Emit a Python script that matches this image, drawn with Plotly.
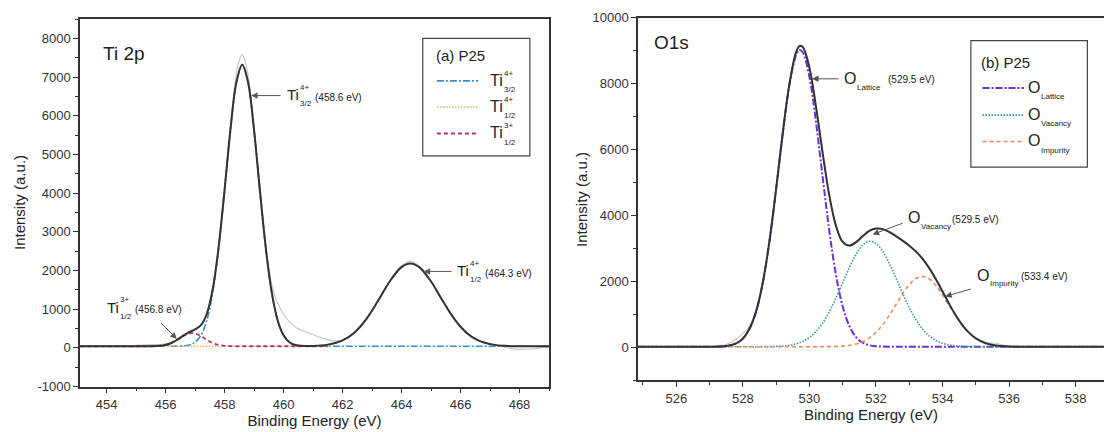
import plotly.graph_objects as go

# ---------------- Ti 2p spectrum (panel a) ----------------
ti_energy = [453.1, 454.0, 455.0, 455.5, 455.8, 456.0, 456.2, 456.4, 456.6, 456.8,
             457.0, 457.2, 457.4, 457.6, 457.8, 458.0, 458.2, 458.4, 458.6, 458.8,
             459.0, 459.2, 459.4, 459.6, 459.8, 460.0, 460.2, 460.4, 460.6, 461.0,
             461.5, 462.0, 462.4, 462.8, 463.2, 463.6, 464.0, 464.3, 464.6, 465.0,
             465.4, 465.8, 466.2, 466.6, 467.1, 467.6, 468.0, 469.0]
ti4_32 = [40, 40, 40, 40, 40, 40, 40, 42, 50, 74,
          146, 325, 714, 1434, 2568, 4055, 5628, 6854, 7320, 6854,
          5628, 4055, 2568, 1434, 714, 325, 146, 74, 50, 40,
          40, 40, 40, 40, 40, 40, 40, 40, 40, 40,
          40, 40, 40, 40, 40, 40, 40, 40]
ti4_12 = [40, 40, 40, 40, 40, 40, 40, 40, 40, 40,
          40, 40, 40, 40, 40, 40, 40, 40, 40, 40,
          40, 40, 40, 40, 40, 40, 40, 40, 42, 49,
          82, 192, 392, 735, 1208, 1715, 2086, 2180, 2086, 1715,
          1208, 735, 392, 192, 82, 49, 42, 40]
ti3_12 = [40, 40, 40, 41, 51, 74, 125, 207, 303, 370,
          370, 303, 207, 125, 74, 51, 43, 40, 40, 40,
          40, 40, 40, 40, 40, 40, 40, 40, 40, 40,
          40]
ti_fit = [40, 40, 40, 41, 51, 74, 125, 209, 313, 404,
          476, 588, 881, 1519, 2602, 4066, 5631, 6854, 7320, 6854,
          5628, 4055, 2568, 1434, 714, 325, 146, 74, 52, 49,
          82, 192, 392, 735, 1208, 1715, 2086, 2180, 2086, 1715,
          1208, 735, 392, 192, 82, 49, 42, 40]
ti_raw_energy = [453.1, 453.6, 454.1, 454.6, 455.1, 455.5, 455.9, 456.2, 456.5, 456.8,
                 457.1, 457.3, 457.5, 457.7, 457.9, 458.1, 458.3, 458.45, 458.6, 458.75,
                 458.9, 459.1, 459.3, 459.5, 459.7, 459.9, 460.1, 460.3, 460.5, 460.8,
                 461.1, 461.4, 461.7, 462.0, 462.3, 462.6, 463.0, 463.4, 463.8, 464.1,
                 464.3, 464.5, 464.8, 465.2, 465.6, 466.0, 466.4, 466.8, 467.2, 467.6,
                 468.0, 468.4, 468.8, 469.0]
ti_raw = [45, 35, 45, 40, 70, 85, 90, 150, 270, 400,
          520, 700, 1150, 2050, 3400, 4950, 6450, 7300, 7580, 7250,
          6400, 4950, 3400, 2050, 1350, 1000, 760, 600, 490, 400,
          310, 230, 180, 200, 320, 520, 950, 1480, 1950, 2180,
          2240, 2170, 1950, 1480, 980, 560, 280, 140, 60, 0,
          -40, -30, 10, 20]
ti_ticks = [-1000, 0, 1000, 2000, 3000, 4000, 5000, 6000, 7000, 8000]

# ---------------- O 1s spectrum (panel b) ----------------
o_energy = [524.85, 526.0, 527.0, 527.5, 527.8, 528.0, 528.2, 528.4, 528.6, 528.8,
            529.0, 529.2, 529.4, 529.6, 529.7, 529.8, 530.0, 530.2, 530.4, 530.6,
            530.8, 531.0, 531.2, 531.4, 531.6, 531.8, 532.0, 532.2, 532.4, 532.6,
            532.8, 533.0, 533.2, 533.4, 533.6, 533.8, 534.0, 534.2, 534.4, 534.6,
            534.8, 535.0, 535.3, 535.6, 536.0, 537.0, 538.0, 538.85]
o_lattice = [15, 15, 15, 37, 116, 262, 559, 1088, 1962, 3219,
             4796, 6486, 7958, 8860, 9012, 8946, 8194, 6810, 5134, 3513,
             2182, 1233, 644, 306, 137, 61, 31, 20, 16, 15,
             15, 15, 15, 15, 15, 15, 15, 15, 15, 15,
             15, 15, 15, 15, 15, 15, 15, 15]
o_vacancy = [15, 15, 15, 15, 15, 15, 15, 16, 17, 19,
             25, 36, 59, 102, 134, 176, 297, 480, 740, 1082,
             1497, 1956, 2414, 2813, 3094, 3213, 3148, 2912, 2543, 2096,
             1632, 1200, 835, 550, 344, 206, 120, 69, 41, 27,
             20, 17, 15, 15, 15, 15, 15, 15]
o_impurity = [15, 15, 15, 15, 15, 15, 15, 15, 15, 15,
              15, 15, 15, 15, 15, 15, 15, 15, 15, 19,
              24, 34, 56, 97, 168, 282, 450, 680, 967, 1290,
              1615, 1895, 2083, 2145, 2069, 1870, 1584, 1257, 936, 654,
              431, 268, 121, 53, 23, 15, 15, 15]
o_fit = [15, 15, 15, 37, 116, 262, 559, 1089, 1964, 3223,
         4806, 6507, 7987, 8947, 9131, 9107, 8476, 7275, 5874, 4586,
         3673, 3193, 3084, 3186, 3369, 3526, 3599, 3582, 3495, 3371,
         3232, 3080, 2903, 2680, 2398, 2061, 1689, 1311, 962, 666,
         436, 270, 121, 53, 23, 15, 15, 15]
o_raw = [10, 15, 20, 90, 250, 420, 650, 1150, 1990, 3230,
         4810, 6500, 7990, 8960, 9170, 9120, 8480, 7280, 5880, 4590,
         3670, 3190, 3070, 3180, 3370, 3530, 3600, 3580, 3490, 3370,
         3230, 3080, 2900, 2680, 2400, 2060, 1690, 1310, 960, 670,
         440, 280, 140, 120, 30, 10, 5, 10]
o_ticks = [0, 2000, 4000, 6000, 8000, 10000]

FONT = "Liberation Sans, Arial, Helvetica, sans-serif"
INK = "#222222"
AXIS = "#333333"

C_TI32 = "#3b8cc4"
C_TI12 = "#e8b560"
C_TI3 = "#b5307a"
C_LAT = "#6a30e0"
C_VAC = "#2f9a9a"
C_IMP = "#f08a5a"
C_FIT = "#333333"
C_RAW = "#c8c8c8"

DASHDOT = "7px,2px,2px,2px"
DOT = "1.5px,1.5px"
DASH = "4px,3px"

fig = go.Figure()


def curve(x, y, color, width, dash, xa, ya):
    fig.add_trace(go.Scatter(
        x=x, y=y, mode="lines", xaxis=xa, yaxis=ya, showlegend=False,
        line=dict(color=color, width=width, dash=dash, shape="spline", smoothing=1.0),
        hoverinfo="skip"))


# panel a
curve(ti_raw_energy, ti_raw, C_RAW, 1.2, "solid", "x", "y")
curve(ti_energy, ti4_32, C_TI32, 1.6, DASHDOT, "x", "y")
curve(ti_energy, ti4_12, C_TI12, 1.6, DOT, "x", "y")
curve(ti_energy[:len(ti3_12)], ti3_12, C_TI3, 1.8, DASH, "x", "y")
curve(ti_energy, ti_fit, C_FIT, 2.0, "solid", "x", "y")

# panel b
curve(o_energy, o_raw, C_RAW, 1.2, "solid", "x2", "y2")
curve(o_energy, o_lattice, C_LAT, 2.0, DASHDOT, "x2", "y2")
curve(o_energy, o_vacancy, C_VAC, 1.6, DOT, "x2", "y2")
curve(o_energy, o_impurity, C_IMP, 1.6, DASH, "x2", "y2")
curve(o_energy, o_fit, C_FIT, 2.0, "solid", "x2", "y2")

W, H = 1104, 432


def px_x(p):
    return p / W


def px_y(p):
    return 1 - p / H


tickfont = dict(family=FONT, size=13, color=AXIS)
common = dict(showgrid=False, zeroline=False, showline=True, linecolor=AXIS, linewidth=1.5,
              ticks="outside", ticklen=5, tickwidth=1.2, tickcolor=AXIS, tickfont=tickfont,
              automargin=False)
xtitle = dict(text="Binding Energy (eV)", font=dict(family=FONT, size=15, color=INK), standoff=3)

fig.update_layout(
    width=W, height=H, margin=dict(l=0, r=0, t=0, b=0, autoexpand=False),
    paper_bgcolor="white", plot_bgcolor="white", showlegend=False,
    font=dict(family=FONT, color=INK),
    xaxis=dict(domain=[px_x(80), px_x(549)], range=[453.1, 469.0], anchor="y",
               dtick=2, tick0=454, mirror=True, ticklabelstandoff=0, title=xtitle,
               minor=dict(dtick=1, tick0=453, ticks="outside", ticklen=3, tickcolor=AXIS),
               **common),
    yaxis=dict(domain=[px_y(386.5), px_y(19)], range=[-1000, 8500], anchor="x",
               tickmode="array", tickvals=ti_ticks, ticktext=[str(v) for v in ti_ticks],
               mirror=True,
               minor=dict(dtick=500, tick0=-1000, ticks="outside", ticklen=3, tickcolor=AXIS),
               **common),
    xaxis2=dict(domain=[px_x(638), 1.0], range=[524.85, 538.85], anchor="y2",
                dtick=2, tick0=526, mirror=True, ticklabelstandoff=0, title=xtitle,
                minor=dict(dtick=1, tick0=525, ticks="outside", ticklen=3, tickcolor=AXIS),
                **common),
    yaxis2=dict(domain=[px_y(380.2), px_y(17.5)], range=[-1000, 10000], anchor="x2",
                tickmode="array", tickvals=o_ticks, ticktext=[str(v) for v in o_ticks],
                mirror=False,
                minor=dict(dtick=1000, tick0=-1000, ticks="outside", ticklen=3, tickcolor=AXIS),
                **common),
)

ann = []
shapes = []


def text(x, y, s, size, xref="x", yref="y", xanchor="left", yanchor="middle", angle=0):
    ann.append(dict(x=x, y=y, xref=xref, yref=yref, text=s, showarrow=False,
                    xanchor=xanchor, yanchor=yanchor, textangle=angle, borderpad=0,
                    font=dict(family=FONT, size=size, color=INK)))


def arrow(xt, yt, xs, ys, xref="x", yref="y"):
    ann.append(dict(x=xt, y=yt, ax=xs, ay=ys, xref=xref, yref=yref, axref=xref, ayref=yref,
                    text="", showarrow=True, arrowhead=2, arrowsize=1.3, arrowwidth=1,
                    arrowcolor="#555555"))


# y-axis titles
text(px_x(19), px_y(203), "Intensity (a.u.)", 15, "paper", "paper", "center", angle=-90)
text(px_x(581), px_y(200), "Intensity (a.u.)", 15, "paper", "paper", "center", angle=-90)

# panel titles
text(453.85, 7620, "Ti 2p", 19)
text(525.3, 9230, "O1s", 19, "x2", "y2")


# ---- panel a peak labels (Ti with stacked charge / spin-orbit indices) ----
def ti_label(x, y, sup, sub, note, size=15):
    text(x, y, "Ti", size)
    text(x + 0.43, y + 200, sup, 8)
    text(x + 0.43, y - 230, sub, 8)
    if note:
        text(x + 0.95, y - 60, note, 10)


arrow(458.9, 6520, 459.95, 6520)
ti_label(460.08, 6540, "4+", "3/2", "(458.6 eV)")

arrow(464.75, 1975, 465.75, 1975)
ti_label(465.85, 1990, "4+", "1/2", "(464.3 eV)")

arrow(456.38, 230, 455.8, 680)
ti_label(453.98, 1040, "3+", "1/2", "(456.8 eV)")

# ---- panel a legend ----
shapes.append(dict(type="rect", xref="x", yref="y", x0=464.72, x1=468.35, y0=4960, y1=8000,
                   line=dict(color="#444444", width=1.2), fillcolor="rgba(0,0,0,0)"))
text(465.12, 7560, "(a) P25", 15)
leg_a = [(6900, C_TI32, DASHDOT, "4+", "3/2", 1.6),
         (6225, C_TI12, DOT, "4+", "1/2", 1.6),
         (5540, C_TI3, DASH, "3+", "1/2", 1.8)]
for yv, col, dsh, sup, sub, wd in leg_a:
    shapes.append(dict(type="line", xref="x", yref="y", x0=465.2, x1=466.6, y0=yv, y1=yv,
                       line=dict(color=col, width=wd, dash=dsh)))
    text(466.98, yv + 20, "Ti", 16)
    text(467.45, yv + 200, sup, 8)
    text(467.45, yv - 220, sub, 8)


# ---- panel b peak labels ----
def o_label(x, y, sub, note):
    text(x, y, "O", 16, "x2", "y2")
    text(x + 0.4, y - 260, sub, 8, "x2", "y2")
    text(x + 1.32, y - 40, note, 10, "x2", "y2")


arrow(530.08, 8140, 530.92, 8140, "x2", "y2")
o_label(531.0, 8150, "Lattice", "(529.5 eV)")

arrow(531.9, 3420, 532.85, 3780, "x2", "y2")
o_label(532.92, 3920, "Vacancy", "(529.5 eV)")

arrow(534.08, 1540, 534.9, 1780, "x2", "y2")
o_label(535.0, 2190, "Impurity", "(533.4 eV)")

# ---- panel b legend ----
shapes.append(dict(type="rect", xref="x2", yref="y2", x0=534.85, x1=538.35, y0=5460, y1=9300,
                   line=dict(color="#444444", width=1.2), fillcolor="rgba(0,0,0,0)"))
text(535.12, 8640, "(b) P25", 15, "x2", "y2")
leg_b = [(7860, C_LAT, DASHDOT, "Lattice", 2.0),
         (7040, C_VAC, DOT, "Vacancy", 1.6),
         (6240, C_IMP, DASH, "Impurity", 1.6)]
for yv, col, dsh, sub, wd in leg_b:
    shapes.append(dict(type="line", xref="x2", yref="y2", x0=535.2, x1=536.45, y0=yv, y1=yv,
                       line=dict(color=col, width=wd, dash=dsh)))
    text(536.55, yv + 30, "O", 16, "x2", "y2")
    text(536.92, yv - 260, sub, 8, "x2", "y2")

fig.update_layout(annotations=ann, shapes=shapes)
fig.write_html("out.html")
